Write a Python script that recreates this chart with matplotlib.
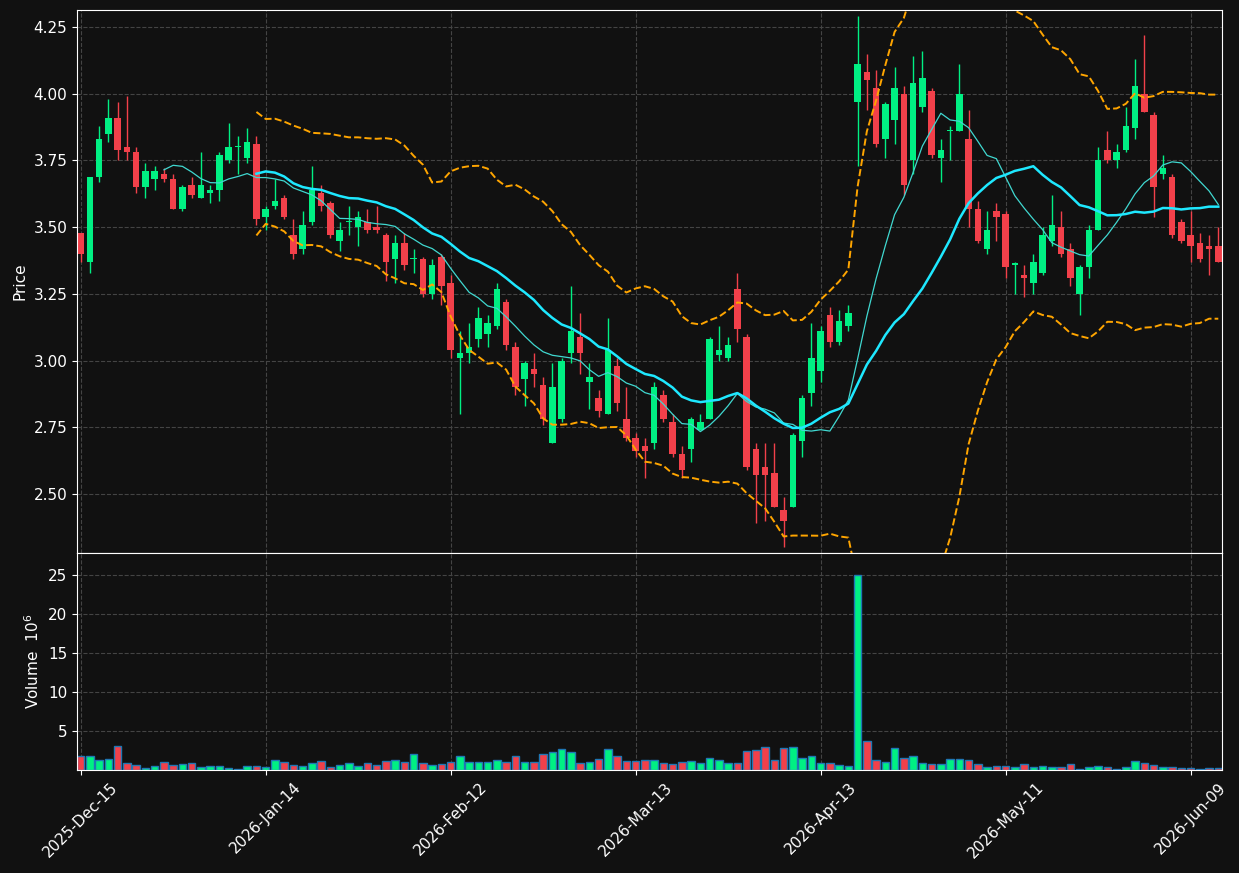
import numpy as np
import pandas as pd
import matplotlib
matplotlib.use("Agg")
import matplotlib.pyplot as plt

# price data (open, high, low, close)
opens = [3.48, 3.37, 3.69, 3.85, 3.91, 3.80, 3.78, 3.65, 3.68, 3.70,
         3.68, 3.57, 3.66, 3.61, 3.63, 3.64, 3.75, 3.80, 3.76, 3.81,
         3.54, 3.58, 3.61, 3.47, 3.42, 3.52, 3.63, 3.59, 3.45, 3.52,
         3.50, 3.52, 3.50, 3.47, 3.38, 3.44, 3.38, 3.38, 3.25, 3.39,
         3.29, 3.01, 3.03, 3.08, 3.10, 3.13, 3.22, 3.05, 2.93, 2.97,
         2.91, 2.69, 2.78, 3.03, 3.09, 2.92, 2.86, 2.80, 2.98, 2.78,
         2.71, 2.68, 2.69, 2.87, 2.77, 2.65, 2.67, 2.74, 2.78, 3.02,
         3.01, 3.27, 3.09, 2.67, 2.60, 2.58, 2.44, 2.45, 2.70, 2.88,
         2.96, 3.17, 3.07, 3.13, 3.97, 4.08, 4.02, 3.83, 3.90, 4.00,
         3.75, 3.95, 4.01, 3.76, 3.86, 3.86, 3.83, 3.57, 3.42, 3.56,
         3.55, 3.36, 3.32, 3.29, 3.33, 3.45, 3.50, 3.42, 3.25, 3.35,
         3.49, 3.79, 3.75, 3.79, 3.87, 4.00, 3.92, 3.70, 3.69, 3.52,
         3.47, 3.44, 3.43, 3.43]
closes = [3.40, 3.69, 3.83, 3.91, 3.79, 3.78, 3.65, 3.71, 3.71, 3.68,
          3.57, 3.65, 3.62, 3.66, 3.64, 3.77, 3.80, 3.80, 3.82, 3.53,
          3.57, 3.60, 3.54, 3.40, 3.51, 3.64, 3.58, 3.47, 3.49, 3.52,
          3.54, 3.49, 3.49, 3.37, 3.44, 3.36, 3.38, 3.25, 3.36, 3.28,
          3.04, 3.03, 3.05, 3.16, 3.14, 3.27, 3.06, 2.90, 2.99, 2.95,
          2.78, 2.90, 3.00, 3.11, 3.03, 2.94, 2.81, 3.04, 2.84, 2.71,
          2.66, 2.66, 2.90, 2.78, 2.65, 2.59, 2.78, 2.77, 3.08, 3.04,
          3.06, 3.12, 2.60, 2.57, 2.57, 2.45, 2.40, 2.72, 2.86, 3.01,
          3.11, 3.07, 3.15, 3.18, 4.11, 4.05, 3.81, 3.96, 4.02, 3.66,
          4.04, 4.06, 3.77, 3.79, 3.86, 4.00, 3.57, 3.45, 3.49, 3.54,
          3.35, 3.36, 3.31, 3.37, 3.47, 3.51, 3.40, 3.31, 3.35, 3.49,
          3.75, 3.75, 3.78, 3.88, 4.03, 3.93, 3.65, 3.72, 3.47, 3.45,
          3.43, 3.38, 3.42, 3.37]
highs = [3.48, 3.69, 3.88, 3.98, 3.97, 3.99, 3.80, 3.74, 3.73, 3.72,
         3.70, 3.66, 3.69, 3.78, 3.66, 3.78, 3.89, 3.84, 3.87, 3.84,
         3.58, 3.68, 3.62, 3.53, 3.56, 3.73, 3.66, 3.60, 3.52, 3.58,
         3.56, 3.57, 3.58, 3.48, 3.47, 3.48, 3.42, 3.39, 3.38, 3.40,
         3.32, 3.11, 3.14, 3.20, 3.17, 3.29, 3.23, 3.07, 3.00, 3.03,
         2.94, 2.99, 3.01, 3.28, 3.18, 2.99, 2.89, 3.16, 3.01, 2.90,
         2.73, 2.71, 2.92, 2.89, 2.80, 2.68, 2.79, 2.80, 3.09, 3.13,
         3.09, 3.33, 3.10, 2.69, 2.69, 2.69, 2.49, 2.73, 2.87, 3.14,
         3.13, 3.20, 3.19, 3.21, 4.29, 4.15, 4.09, 3.97, 4.10, 4.03,
         4.14, 4.16, 4.02, 3.83, 3.88, 4.11, 3.94, 3.60, 3.56, 3.59,
         3.56, 3.37, 3.36, 3.40, 3.50, 3.62, 3.56, 3.44, 3.36, 3.51,
         3.80, 3.86, 3.81, 3.95, 4.13, 4.22, 3.93, 3.77, 3.70, 3.53,
         3.56, 3.48, 3.47, 3.50]
lows = [3.37, 3.33, 3.67, 3.82, 3.75, 3.75, 3.63, 3.61, 3.64, 3.67,
        3.57, 3.56, 3.61, 3.61, 3.59, 3.60, 3.74, 3.70, 3.74, 3.51,
        3.49, 3.57, 3.53, 3.38, 3.40, 3.51, 3.56, 3.46, 3.41, 3.47,
        3.43, 3.48, 3.48, 3.30, 3.29, 3.34, 3.33, 3.24, 3.23, 3.21,
        3.01, 2.80, 2.99, 3.05, 3.05, 3.12, 3.04, 2.87, 2.83, 2.90,
        2.76, 2.69, 2.77, 2.99, 2.95, 2.82, 2.79, 2.80, 2.81, 2.70,
        2.64, 2.56, 2.67, 2.77, 2.64, 2.56, 2.62, 2.74, 2.78, 3.00,
        3.00, 3.07, 2.59, 2.39, 2.40, 2.45, 2.30, 2.45, 2.64, 2.83,
        2.92, 3.05, 3.06, 3.11, 3.73, 3.94, 3.80, 3.76, 3.81, 3.62,
        3.70, 3.93, 3.76, 3.67, 3.75, 3.86, 3.50, 3.44, 3.40, 3.45,
        3.31, 3.25, 3.24, 3.25, 3.32, 3.43, 3.39, 3.28, 3.17, 3.31,
        3.49, 3.74, 3.72, 3.78, 3.83, 3.93, 3.54, 3.68, 3.46, 3.44,
        3.37, 3.37, 3.32, 3.37]
volume = [1.8, 1.8, 1.24, 1.37, 3.1, 0.9, 0.6, 0.2, 0.47, 1.0,
          0.6, 0.77, 0.9, 0.34, 0.47, 0.47, 0.2, 0.17, 0.47, 0.47,
          0.34, 1.24, 1.0, 0.6, 0.47, 0.85, 1.1, 0.34, 0.6, 0.85,
          0.47, 0.85, 0.6, 1.1, 1.24, 1.0, 2.1, 0.85, 0.6, 0.73,
          1.0, 1.75, 1.0, 1.0, 1.0, 1.24, 1.0, 1.75, 1.0, 1.0,
          2.1, 2.26, 2.65, 2.26, 0.85, 1.0, 1.37, 2.65, 1.75, 1.1,
          1.1, 1.24, 1.24, 0.85, 0.73, 1.0, 1.1, 0.85, 1.6, 1.24,
          0.85, 0.85, 2.4, 2.5, 2.9, 1.24, 2.8, 3.0, 1.5, 1.75,
          0.85, 0.85, 0.6, 0.47, 25.0, 3.7, 1.24, 1.0, 2.8, 1.5,
          1.75, 0.85, 0.73, 0.73, 1.37, 1.37, 1.24, 0.73, 0.34, 0.47,
          0.47, 0.34, 0.73, 0.34, 0.47, 0.34, 0.34, 0.73, 0.17, 0.34,
          0.47, 0.34, 0.17, 0.34, 1.1, 0.85, 0.6, 0.34, 0.34, 0.2,
          0.2, 0.1, 0.2, 0.2]
tick_pos = [0, 20, 40, 60, 80, 100, 120]
tick_labels = ['2025-Dec-15', '2026-Jan-14', '2026-Feb-12', '2026-Mar-13',
               '2026-Apr-13', '2026-May-11', '2026-Jun-09']

bg = '#111111'
up = '#00f083'
down = '#f2404a'

df = pd.DataFrame({'open': opens, 'high': highs, 'low': lows,
                   'close': closes, 'volume': volume})
x = np.arange(len(df))
ma10 = df['close'].rolling(10).mean()
ma20 = df['close'].rolling(20).mean()
sd20 = df['close'].rolling(20).std(ddof=0)

fig = plt.figure(figsize=(12.39, 8.73), dpi=100, facecolor=bg)
ax = fig.add_axes([77/1239, 1-553/873, (1222-77)/1239, (553-10)/873])
axv = fig.add_axes([77/1239, 1-770/873, (1222-77)/1239, (770-553)/873], sharex=ax)

for a in (ax, axv):
    a.set_facecolor(bg)
    a.grid(True, color='#444444', linestyle='--', linewidth=0.8)
    a.set_axisbelow(True)
    for s in a.spines.values():
        s.set_color('white')
    a.tick_params(colors='white', labelsize=11)

colors = [up if c >= o else down for o, c in zip(opens, closes)]
ax.vlines(x, df['low'], df['high'], colors=colors, linewidth=1)
body_lo = np.minimum(df['open'], df['close'])
body_h = np.maximum((df['close'] - df['open']).abs(), 0.004)
ax.bar(x, body_h, bottom=body_lo, width=0.7, color=colors, linewidth=0)

ax.plot(x, ma10, color='#40d8d0', linewidth=0.9)
ax.plot(x, ma20, color='#1ee8ff', linewidth=1.8)
ax.plot(x, ma20 + 2 * sd20, color='#ffa500', linestyle='--', linewidth=1.4)
ax.plot(x, ma20 - 2 * sd20, color='#ffa500', linestyle='--', linewidth=1.4)

ax.set_ylim(2.279, 4.314)
ax.set_yticks([2.5, 2.75, 3.0, 3.25, 3.5, 3.75, 4.0, 4.25])
ax.set_ylabel('Price', color='white', fontsize=11)
ax.tick_params(labelbottom=False)

axv.bar(x, volume, width=0.8, color=colors, edgecolor='#1f77b4', linewidth=1)
axv.set_ylim(0, 27.8)
axv.set_yticks([5, 10, 15, 20, 25])
axv.set_ylabel('Volume  $10^{6}$', color='white', fontsize=11)
axv.set_xlim(-0.4, len(df) - 0.6)
axv.set_xticks(tick_pos)
axv.set_xticklabels(tick_labels, rotation=45, ha='center')

fig.savefig('out.png', dpi=100, facecolor=bg)
